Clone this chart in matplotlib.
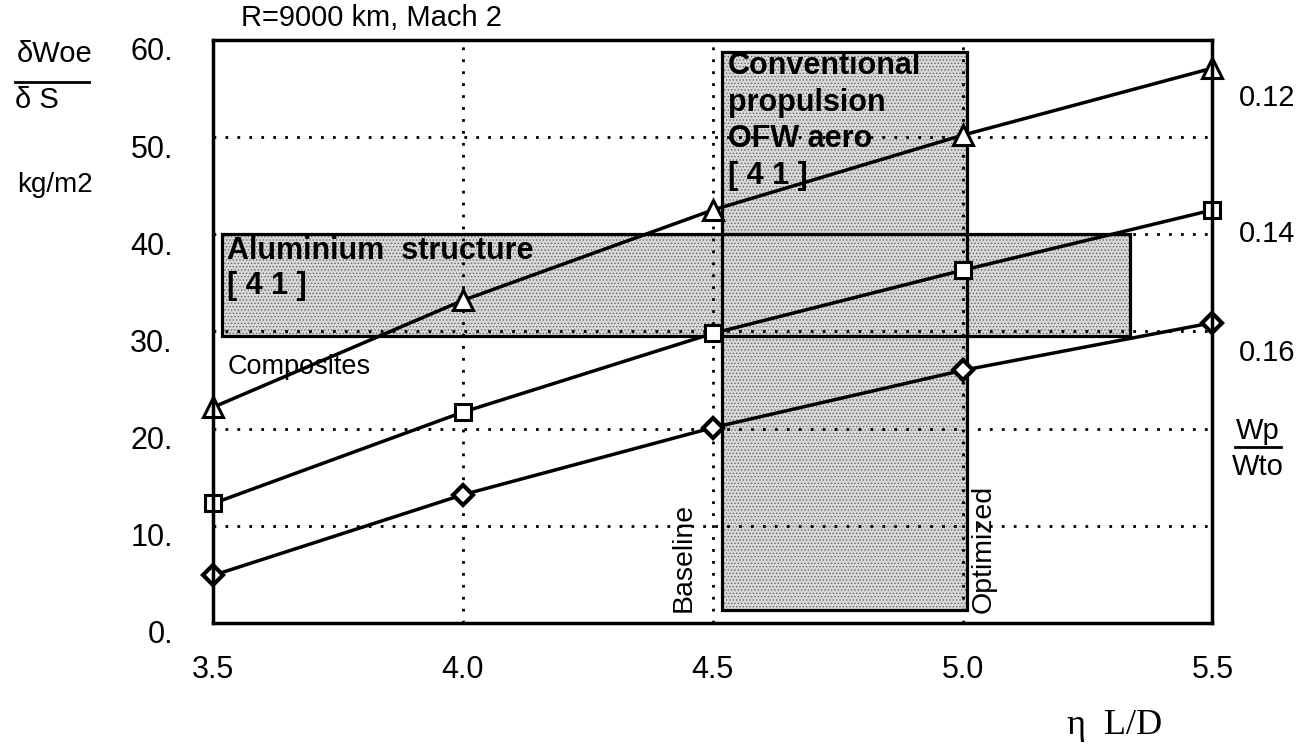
import matplotlib
matplotlib.use("Agg")
import matplotlib.pyplot as plt
from matplotlib.patches import Rectangle
from matplotlib.transforms import ScaledTranslation

plt.rcParams['font.family'] = ['Liberation Sans', 'DejaVu Sans']
plt.rcParams['hatch.linewidth'] = 0.6

# eta L/D on the x axis
eta_ld = [3.5, 4.0, 4.5, 5.0, 5.5]
# dWoe/dS (kg/m2), one curve per Wp/Wto
woe_012 = [22.2, 33.2, 42.5, 50.2, 57.1]
woe_014 = [12.3, 21.7, 29.8, 36.3, 42.5]
woe_016 = [4.9, 13.2, 20.1, 26.0, 30.9]
wp_labels = ['0.12', '0.14', '0.16']
wp_label_y = [54.0, 40.0, 27.8]

xticks = [3.5, 4.0, 4.5, 5.0, 5.5]
xtick_labels = ['3.5', '4.0', '4.5', '5.0', '5.5']
yticks = [0, 10, 20, 30, 40, 50, 60]
ytick_labels = ['0.', '10.', '20.', '30.', '40.', '50.', '60.']

# shaded bands: (x0, x1, y0, y1)
alu_box = (3.518, 5.336, 29.5, 40.0)
prop_box = (4.518, 5.008, 1.3, 58.8)

fig = plt.figure(figsize=(13.15, 7.47), dpi=100)
ax = fig.add_axes([0.162, 0.166, 0.760, 0.7805])
ax.set_xlim(3.5, 5.5)
ax.set_ylim(0, 60)

# stippled bands
for (x0, x1, y0, y1) in (alu_box, prop_box):
    ax.add_patch(Rectangle((x0, y0), x1 - x0, y1 - y0, facecolor='#d8d8d8',
                           edgecolor='#666666', hatch='.....', linewidth=0, zorder=1))
    ax.add_patch(Rectangle((x0, y0), x1 - x0, y1 - y0, fill=False,
                           edgecolor='black', linewidth=2.3, zorder=2))

# curves
line_kw = dict(color='black', linewidth=2.5, markerfacecolor='white',
               markeredgecolor='black', zorder=3, clip_on=False)
ax.plot(eta_ld, woe_012, marker='^', markersize=14, markeredgewidth=2.2, **line_kw)
ax.plot(eta_ld, woe_014, marker='s', markersize=12, markeredgewidth=2.2, **line_kw)
ax.plot(eta_ld, woe_016, marker='D', markersize=10, markeredgewidth=3, **line_kw)

# axes / grid
ax.set_xticks(xticks)
ax.set_xticklabels(xtick_labels)
ax.set_yticks(yticks)
ax.set_yticklabels(ytick_labels)
ax.tick_params(length=0, labelsize=22)
ax.tick_params(axis='y', pad=29)
ax.tick_params(axis='x', pad=23)
for lab in ax.get_yticklabels():
    lab.set_transform(lab.get_transform() + ScaledTranslation(0, -0.09, fig.dpi_scale_trans))
ax.set_axisbelow(False)
ax.grid(True, color='black', linestyle=(0, (1, 3.3)), linewidth=2)
for sp in ax.spines.values():
    sp.set_linewidth(2.5)
    sp.set_zorder(4)

# annotations
ax.text(3.555, 60.8, 'R=9000 km, Mach 2', fontsize=21, va='bottom', ha='left')
ax.text(3.528, 39.8, 'Aluminium  structure\n[ 4 1 ]', fontsize=22, fontweight='bold',
        va='top', ha='left', linespacing=1.2, zorder=5)
ax.text(4.53, 58.9, 'Conventional\npropulsion\nOFW aero\n[ 4 1 ]', fontsize=22,
        fontweight='bold', va='top', ha='left', linespacing=1.3, zorder=5)
ax.text(3.53, 26.3, 'Composites', fontsize=19.5, va='center', ha='left', zorder=5)
ax.text(4.442, 1.1, 'Baseline', fontsize=20.5, rotation=90, va='bottom', ha='center', zorder=5)
ax.text(5.042, 1.0, 'Optimized', fontsize=20.5, rotation=90, va='bottom', ha='center', zorder=5)

for lab, y in zip(wp_labels, wp_label_y):
    ax.text(5.61, y, lab, fontsize=21, va='center', ha='center')
ax.text(5.59, 19.8, 'Wp', fontsize=21, va='center', ha='center')
ax.plot([5.545, 5.638], [18.1, 18.1], color='black', linewidth=2, clip_on=False)
ax.text(5.59, 16.1, 'Wto', fontsize=21, va='center', ha='center')

ax.text(3.184, 58.6, '\u03b4Woe', fontsize=21, va='center', ha='center')
ax.plot([3.104, 3.252], [55.7, 55.7], color='black', linewidth=2, clip_on=False)
ax.text(3.104, 53.8, '\u03b4 S', fontsize=21, va='center', ha='left')
ax.text(3.184, 45.1, 'kg/m2', fontsize=20, va='center', ha='center')

ax.text(5.304, -10.5, '\u03b7  L/D', fontsize=26, va='center', ha='center',
        family=['Liberation Serif', 'DejaVu Serif'])

fig.savefig('out.png', dpi=100)
